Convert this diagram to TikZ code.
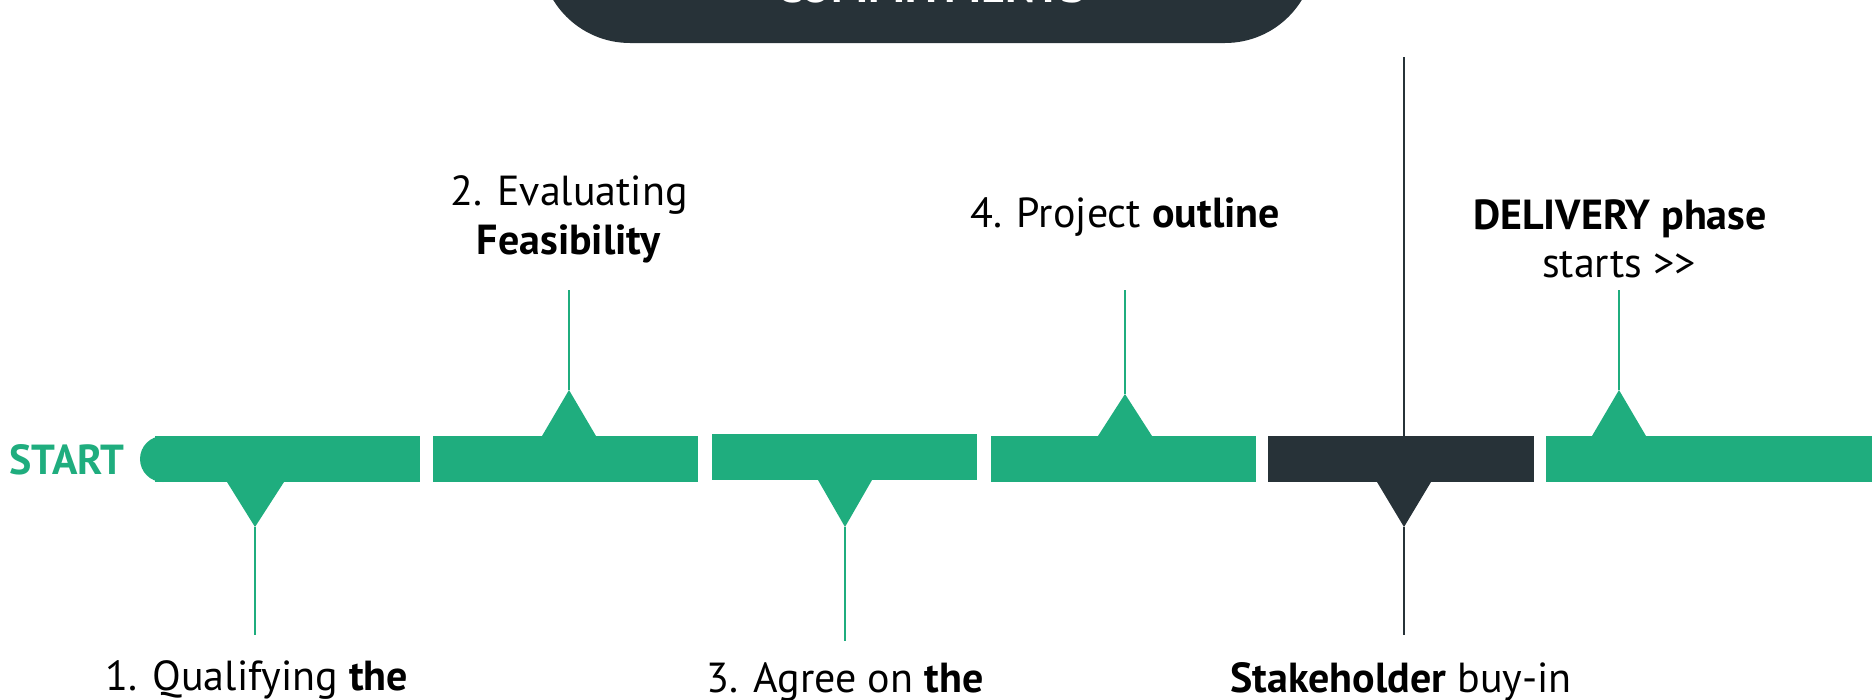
\documentclass[tikz,border=0pt]{standalone}
\usepackage{fontspec}
\setmainfont{PT Sans}
\definecolor{tgreen}{HTML}{1FAD7E}
\definecolor{tdark}{HTML}{273238}
\tikzset{
  seg/.style={fill=#1, draw=none, inner sep=0pt, minimum height=46pt, anchor=west},
  lbl/.style={font=\fontsize{42}{50}\selectfont, text=black, inner sep=0pt, anchor=base},
  stem/.style={line width=1.8pt, draw=#1},
  tri/.style={fill=#1, draw=none},
}
\begin{document}
\begin{tikzpicture}[x=1pt,y=-1pt]
\useasboundingbox (0,0) rectangle (1872,699);
\clip (0,0) rectangle (1872,699);
% top box
\fill[tdark, rounded corners=90pt] (540,-200) rectangle (1315,43);
\node[text=white, font=\bfseries\fontsize{46}{50}\selectfont, anchor=base, inner sep=0pt] (title) at (931,2.5) {COMMITMENTS};
% start label
\node[text=tgreen, font=\bfseries\fontsize{42}{48}\selectfont, anchor=base west, inner sep=0pt] (start) at (9,474) {START};
% bar
\fill[tgreen] (163,459) circle (23pt);
\node[seg=tgreen, minimum width=265pt] (s1) at (155,459) {};
\node[seg=tgreen, minimum width=265pt] (s2) at (433,459) {};
\node[seg=tgreen, minimum width=265pt] (s3) at (712,457) {};
\node[seg=tgreen, minimum width=265pt] (s4) at (991,459) {};
\node[seg=tdark,  minimum width=266pt] (s5) at (1268,459) {};
\node[seg=tgreen, minimum width=330pt] (s6) at (1546,459) {};
% markers
\fill[tri=tgreen] (227,482) -- (284,482) -- (255,527) coordinate (a1) -- cycle;
\fill[tri=tgreen] (542,436) -- (596,436) -- (569,390) coordinate (a2) -- cycle;
\fill[tri=tgreen] (818,480) -- (872,480) -- (845,527) coordinate (a3) -- cycle;
\fill[tri=tgreen] (1098,436) -- (1152,436) -- (1125,394) coordinate (a4) -- cycle;
\fill[tri=tdark]  (1377,482) -- (1431,482) -- (1404,527) coordinate (a5) -- cycle;
\fill[tri=tgreen] (1592,436) -- (1646,436) -- (1619,390) coordinate (a6) -- cycle;
% stem ends
\coordinate (e1) at (255,635);
\coordinate (e2) at (569,290);
\coordinate (e3) at (845,641);
\coordinate (e4) at (1125,290);
\coordinate (e5) at (1404,635);
\coordinate (e5t) at (1404,57);
\coordinate (b5) at (1404,436);
\coordinate (e6) at (1619,290);
\draw[stem=tgreen] (a1) -- (e1);
\draw[stem=tgreen] (a2) -- (e2);
\draw[stem=tgreen] (a3) -- (e3);
\draw[stem=tgreen] (a4) -- (e4);
\draw[stem=tdark] (a5) -- (e5);
\draw[stem=tdark] (e5t) -- (b5);
\draw[stem=tgreen] (a6) -- (e6);
% labels
\node[lbl] (l1) at (257,690) {1. Qualifying \textbf{the}};
\node[lbl] (l2a) at (569,205) {2. Evaluating};
\node[lbl] (l2b) at (569,254) {\textbf{Feasibility}};
\node[lbl] (l3) at (845,692) {3. Agree on \textbf{the}};
\node[lbl] (l4) at (1125,227) {4. Project \textbf{outline}};
\node[lbl] (l5) at (1401,692) {\textbf{Stakeholder} buy-in};
\node[lbl] (l6a) at (1620,229) {\textbf{DELIVERY phase}};
\node[lbl] (l6b) at (1619,277) {starts >{}>};
\end{tikzpicture}
\end{document}
